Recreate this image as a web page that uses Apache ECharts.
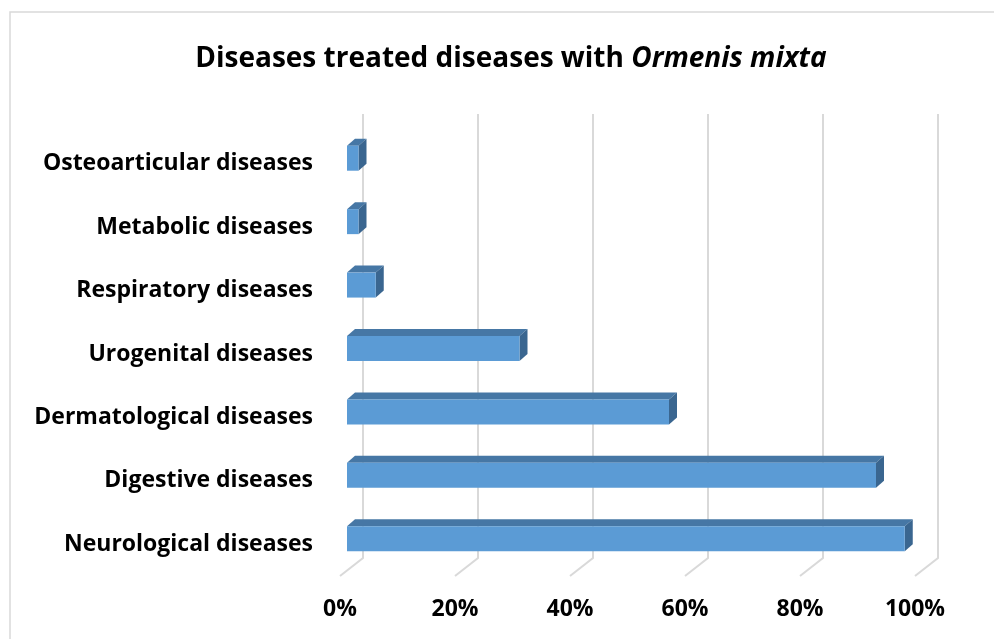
<!DOCTYPE html>
<html>
<head>
<meta charset="utf-8">
<script src="https://cdn.jsdelivr.net/npm/echarts@6/dist/echarts.min.js"></script>
<style>html,body{margin:0;padding:0;background:#fff;}#c{width:994px;height:639px;}</style>
</head>
<body>
<div id="c"></div>
<script>
const categories = ['Neurological diseases', 'Digestive diseases', 'Dermatological diseases', 'Urogenital diseases', 'Respiratory diseases', 'Metabolic diseases', 'Osteoarticular diseases'];
const values = [97, 92, 56, 30, 5, 2, 2];
const tickValues = [0, 20, 40, 60, 80, 100];

const FONT = 'Open Sans';
const chart = echarts.init(document.getElementById('c'));

const option = {
  animation: false,
  backgroundColor: '#fff',
  graphic: [{
    type: 'rect', shape: { x: 10, y: 12, width: 1100, height: 800 },
    style: { fill: null, stroke: '#d9d9d9', lineWidth: 1.5 }, silent: true, z: -10
  }],
  title: {
    text: '{a|Diseases treated diseases with }{b|Ormenis mixta}',
    left: 506, top: 40, textAlign: 'center',
    textStyle: {
      rich: {
        a: { fontFamily: FONT, fontWeight: 'bold', fontSize: 28, color: '#000' },
        b: { fontFamily: FONT, fontWeight: 'bold', fontStyle: 'italic', fontSize: 28, color: '#000' }
      }
    }
  },
  grid: { left: 340, top: 132, width: 575, height: 444, containLabel: false },
  xAxis: {
    type: 'value', min: 0, max: 100, interval: 20,
    axisLine: { show: false }, axisTick: { show: false }, splitLine: { show: false },
    axisLabel: { formatter: '{value}%', fontFamily: FONT, fontWeight: 'bold', fontSize: 23, color: '#000', margin: 22 }
  },
  yAxis: {
    type: 'category', data: categories,
    axisLine: { show: false }, axisTick: { show: false }, splitLine: { show: false },
    axisLabel: { fontFamily: FONT, fontWeight: 'bold', fontSize: 23, color: '#000', margin: 27 }
  },
  series: [
    {
      type: 'custom', z: 1, silent: true,
      data: tickValues.map(v => [v, 0]),
      renderItem: function (params, api) {
        const cs = params.coordSys;
        const x = api.coord([api.value(0), 0])[0];
        const bottom = cs.y + cs.height;
        return {
          type: 'polyline',
          shape: { points: [[x + 23, cs.y - 18], [x + 23, bottom - 18], [x, bottom]] },
          style: { stroke: '#d9d9d9', lineWidth: 2, fill: null }
        };
      }
    },
    {
      type: 'custom', z: 2,
      data: values.map((v, i) => [v, i]),
      encode: { x: 0, y: 1 },
      renderItem: function (params, api) {
        const v = api.value(0), idx = api.value(1);
        const p0 = api.coord([0, idx]);
        const p1 = api.coord([v, idx]);
        const x0 = p0[0] + 7, x1 = p1[0] + 7;
        const yc = p0[1] - 5.5;
        const top = yc - 12.5, bot = yc + 12.5;
        const dx = 8, dy = -7;
        return {
          type: 'group',
          children: [
            { type: 'polygon', shape: { points: [[x0, top], [x1, top], [x1 + dx, top + dy], [x0 + dx, top + dy]] }, style: { fill: '#4677A5' } },
            { type: 'polygon', shape: { points: [[x1, top], [x1 + dx, top + dy], [x1 + dx, bot + dy], [x1, bot]] }, style: { fill: '#3A6690' } },
            { type: 'rect', shape: { x: x0, y: top, width: x1 - x0, height: bot - top }, style: { fill: '#5B9BD5' } }
          ]
        };
      }
    }
  ]
};
chart.setOption(option);
</script>
</body>
</html>
